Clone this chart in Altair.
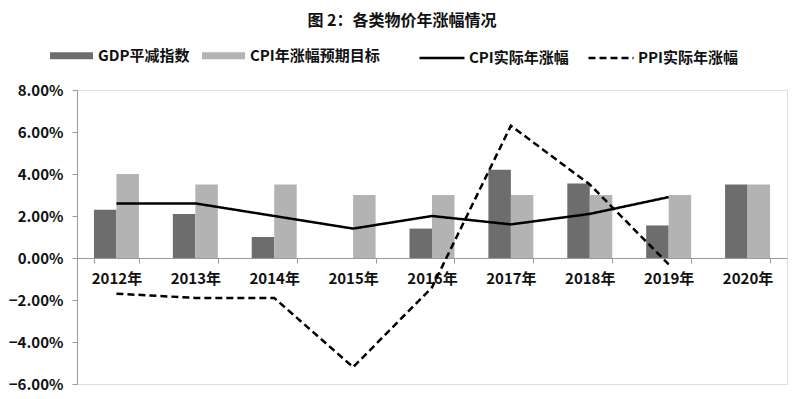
import altair as alt
import pandas as pd

years = ["2012年", "2013年", "2014年", "2015年", "2016年", "2017年", "2018年", "2019年", "2020年"]
gdp_deflator = [2.3, 2.1, 1.0, None, 1.4, 4.2, 3.55, 1.55, 3.5]
cpi_target = [4.0, 3.5, 3.5, 3.0, 3.0, 3.0, 3.0, 3.0, 3.5]
cpi_actual = [2.6, 2.6, 2.0, 1.4, 2.0, 1.6, 2.1, 2.9, None]
ppi_actual = [-1.7, -1.9, -1.9, -5.2, -1.4, 6.3, 3.5, -0.3, None]
y_ticks = [-6, -4, -2, 0, 2, 4, 6, 8]

bar_names = ["GDP平减指数", "CPI年涨幅预期目标"]
line_names = ["CPI实际年涨幅", "PPI实际年涨幅"]
title_text = "图 2：各类物价年涨幅情况"

FONT = "Noto Sans CJK SC"

bar_rows = []
for i, yr in enumerate(years):
    for name, series in zip(bar_names, [gdp_deflator, cpi_target]):
        if series[i] is not None:
            bar_rows.append({"year": yr, "bar": name, "value": series[i]})
line_rows = []
for name, series in zip(line_names, [cpi_actual, ppi_actual]):
    for i, yr in enumerate(years):
        if series[i] is not None:
            line_rows.append({"year": yr, "line": name, "value": series[i]})

bar_df = pd.DataFrame(bar_rows)
line_df = pd.DataFrame(line_rows)

x_enc = alt.X(
    "year:N",
    sort=years,
    scale=alt.Scale(domain=years, paddingInner=0.43, paddingOuter=0.215),
    axis=alt.Axis(
        title=None, labelAngle=0, offset=-126, tickBand="extent",
        domainColor="#9a9a9a", tickColor="#9a9a9a", tickSize=5, domainWidth=1,
        labelFont=FONT, labelFontSize=15, labelFontWeight="bold",
        labelColor="#111111", labelPadding=8,
    ),
)
y_enc = alt.Y(
    "value:Q",
    scale=alt.Scale(domain=[-6, 8], nice=False, zero=False),
    axis=alt.Axis(
        title=None, values=y_ticks, grid=False,
        labelExpr="format(datum.value, '.2f') + '%'",
        domainColor="#9a9a9a", tickColor="#9a9a9a", tickSize=5,
        labelFont=FONT, labelFontSize=15, labelFontWeight="bold",
        labelColor="#111111", labelPadding=9,
    ),
)

bars = alt.Chart(bar_df).mark_bar().encode(
    x=x_enc,
    y=y_enc,
    xOffset=alt.XOffset("bar:N", sort=bar_names, scale=alt.Scale(domain=bar_names)),
    color=alt.Color(
        "bar:N",
        scale=alt.Scale(domain=bar_names, range=["#6d6d6d", "#b3b3b3"]),
        legend=alt.Legend(
            title=None, orient="none", legendX=-27, legendY=-56,
            direction="horizontal", padding=0,
            symbolType="M-1,-0.16H1V0.16H-1Z", symbolSize=1849,
            symbolStrokeWidth=0, symbolOpacity=1,
            labelFont=FONT, labelFontSize=15, labelFontWeight="bold",
            labelColor="#111111", labelOffset=5, columnPadding=12,
        ),
    ),
)

lines = alt.Chart(line_df).mark_line(color="black", strokeWidth=2.5).encode(
    x=alt.X("year:N", sort=years),
    y="value:Q",
    strokeDash=alt.StrokeDash(
        "line:N",
        scale=alt.Scale(domain=line_names, range=[[1, 0], [7, 4]]),
        legend=alt.Legend(
            title=None, orient="none", legendX=341, legendY=-56,
            direction="horizontal", padding=0,
            symbolType="stroke", symbolSize=2025,
            symbolStrokeColor="black", symbolStrokeWidth=2.5,
            labelFont=FONT, labelFontSize=15, labelFontWeight="bold",
            labelColor="#111111", labelOffset=3, columnPadding=14,
        ),
    ),
)

chart = alt.layer(bars, lines).properties(
    width=710,
    height=294,
    padding={"left": 69, "top": 82, "right": 10, "bottom": 10},
    autosize="none",
    title=alt.TitleParams(
        title_text, font=FONT, fontSize=16, fontWeight="bold", color="#111111",
        anchor="middle", frame="group", dx=-30, offset=5,
    ),
).configure_view(stroke=None).configure(background="white")

chart.save("out.html", embed_options={"renderer": "svg", "actions": False})
